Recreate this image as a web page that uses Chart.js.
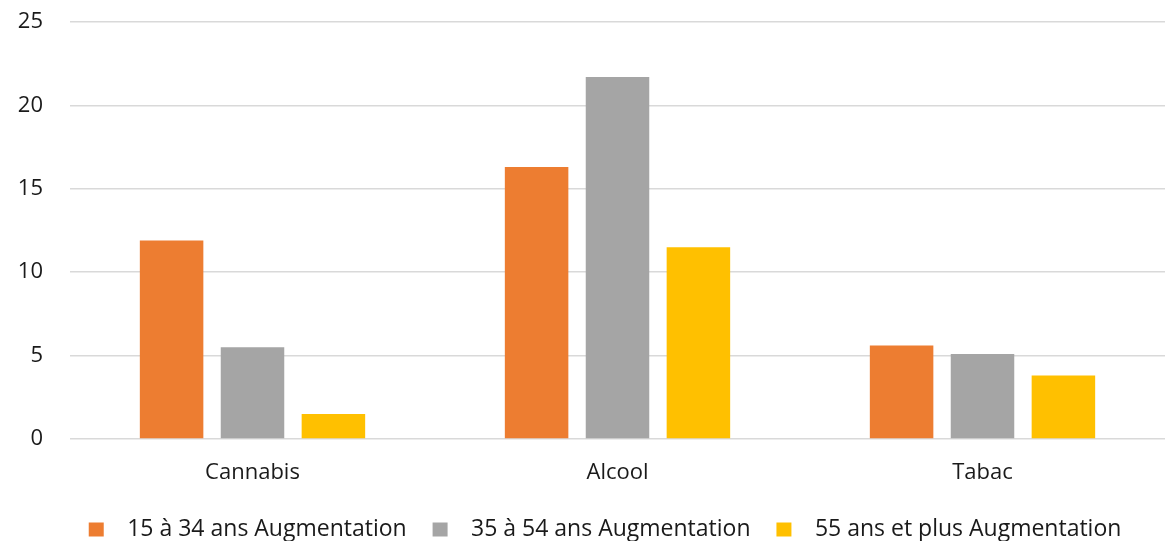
<!DOCTYPE html>
<html>
<head>
<meta charset="utf-8">
<script src="https://cdn.jsdelivr.net/npm/chart.js@4.4.1/dist/chart.umd.min.js"></script>
<style>
    html, body { margin: 0; padding: 0; background: #fff; }
    #wrap { width: 1165px; height: 541px; position: relative; }
</style>
</head>
<body>
<div id="wrap"><canvas id="chart"></canvas></div>
<script>
    // Données
    var categories = ["Cannabis", "Alcool", "Tabac"];
    var jeunes = [11.9, 16.3, 5.6];     // 15 à 34 ans
    var adultes = [5.5, 21.7, 5.1];     // 35 à 54 ans
    var seniors = [1.5, 11.5, 3.8];     // 55 ans et plus
    var yTicks = [0, 5, 10, 15, 20, 25];

    Chart.defaults.font.family = "'Open Sans', sans-serif";
    Chart.defaults.color = "#1a1a1a";

    // décale la légende un peu vers la droite, comme dans Excel
    var legendShift = {
        id: "legendShift",
        afterLayout: function (chart) {
            if (chart.legend) {
                chart.legend.left += 31;
                chart.legend.right += 31;
            }
        }
    };

    var ctx = document.getElementById("chart").getContext("2d");
    var myChart = new Chart(ctx, {
        type: "bar",
        data: {
            labels: categories,
            datasets: [
                { label: "15 à 34 ans Augmentation", data: jeunes, backgroundColor: "#ED7D31" },
                { label: "35 à 54 ans Augmentation", data: adultes, backgroundColor: "#A5A5A5" },
                { label: "55 ans et plus Augmentation", data: seniors, backgroundColor: "#FFC000" }
            ]
        },
        options: {
            responsive: true,
            maintainAspectRatio: false,
            animation: false,
            datasets: {
                bar: { barPercentage: 0.785, categoryPercentage: 0.665 }
            },
            layout: { padding: { top: 22, right: -7, left: 0, bottom: -10 } },
            scales: {
                x: {
                    grid: { display: false },
                    border: { display: false },
                    ticks: { font: { size: 22 }, padding: 13 },
                    afterFit: function (scale) { scale.height = 77; }
                },
                y: {
                    min: 0,
                    max: 25,
                    afterBuildTicks: function (scale) {
                        scale.ticks = yTicks.map(function (v) { return { value: v }; });
                    },
                    grid: { color: "#d9d9d9", lineWidth: 1.5, drawTicks: false },
                    border: { display: false },
                    ticks: { font: { size: 22 }, padding: 27 },
                    afterFit: function (scale) {
                        scale.width = 70;
                        scale.paddingTop = 10;
                        scale.paddingBottom = 10;
                    }
                }
            },
            plugins: {
                tooltip: { enabled: false },
                legend: {
                    position: "bottom",
                    labels: {
                        boxWidth: 15,
                        boxHeight: 14,
                        padding: 2,
                        font: { size: 23 },
                        generateLabels: function (chart) {
                            var items = Chart.defaults.plugins.legend.labels.generateLabels(chart);
                            items.forEach(function (it) {
                                it.text = "  " + it.text + "    ";
                                it.lineWidth = 0;
                            });
                            return items;
                        }
                    }
                }
            }
        },
        plugins: [legendShift]
    });
</script>
</body>
</html>
